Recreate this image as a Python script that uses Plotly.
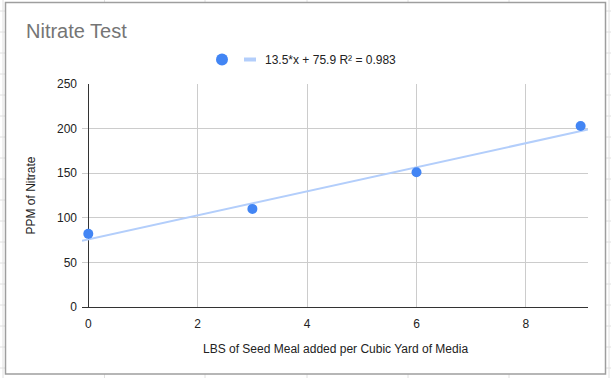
import numpy as np
import plotly.graph_objects as go

# ---- data ----
lbs_seed_meal = [0, 3, 6, 9]
ppm_nitrate = [82, 110, 151, 203]
x_tick_vals = [0, 2, 4, 6, 8]
y_tick_vals = [0, 50, 100, 150, 200, 250]
chart_title = "Nitrate Test"
x_title = "LBS of Seed Meal added per Cubic Yard of Media"
y_title = "PPM of Nitrate"

# ---- layout geometry ----
W, H = 611, 378
L, R, T, B = 82, 23, 84, 71
x_range = [-0.115, 9.135]
y_range = [0, 250]
FONT = "Liberation Sans, Arial, sans-serif"
BLUE = "#4285f4"
TREND = "#b3cefb"


def px(x):
    return (x - L) / (W - L - R)


def py(y):
    return (H - B - y) / (H - T - B)


# linear trendline
xa = np.array(lbs_seed_meal, dtype=float)
ya = np.array(ppm_nitrate, dtype=float)
slope, intercept = np.polyfit(xa, ya, 1)
pred = slope * xa + intercept
r2 = 1 - np.sum((ya - pred) ** 2) / np.sum((ya - ya.mean()) ** 2)
trend_label = f"{slope:.1f}*x + {intercept:.1f} R\u00b2 = {r2:.3f}"
x_fit = np.array(x_range)
y_fit = slope * x_fit + intercept

fig = go.Figure()
fig.add_trace(go.Scatter(x=x_fit, y=y_fit, mode="lines",
                         line=dict(color=TREND, width=2),
                         hoverinfo="skip", showlegend=False))
fig.add_trace(go.Scatter(x=lbs_seed_meal, y=ppm_nitrate, mode="markers",
                         marker=dict(color=BLUE, size=10),
                         showlegend=False))

shapes = []
grid_c = "#e0e0e0"
# spreadsheet background lines
for gx in [3, 104.5, 205, 307, 408, 509, 609]:
    shapes.append(dict(type="line", xref="paper", yref="paper",
                       x0=px(gx), x1=px(gx), y0=py(0), y1=py(H),
                       line=dict(color=grid_c, width=1), layer="below"))
for k in range(18):
    gy = 11 + 21 * k
    shapes.append(dict(type="line", xref="paper", yref="paper",
                       x0=px(0), x1=px(W), y0=py(gy), y1=py(gy),
                       line=dict(color=grid_c, width=1), layer="below"))
# chart card
shapes.append(dict(type="rect", xref="paper", yref="paper",
                   x0=px(5.5), x1=px(605.5), y0=py(2.5), y1=py(374),
                   fillcolor="white", line=dict(color="#9e9e9e", width=1.5),
                   layer="below"))
# custom legend symbols
shapes.append(dict(type="circle", xref="paper", yref="paper",
                   xsizemode="pixel", ysizemode="pixel",
                   xanchor=px(222), yanchor=py(59.5),
                   x0=-6, x1=6, y0=-6, y1=6,
                   fillcolor=BLUE, line=dict(width=0)))
shapes.append(dict(type="line", xref="paper", yref="paper",
                   x0=px(244), x1=px(256), y0=py(59.5), y1=py(59.5),
                   line=dict(color=TREND, width=4)))

annotations = [
    dict(text=chart_title, xref="paper", yref="paper", x=px(24), y=py(31),
         xanchor="left", yanchor="middle", showarrow=False,
         font=dict(family=FONT, size=20, color="#757575")),
    dict(text=trend_label, xref="paper", yref="paper", x=px(263), y=py(59.5),
         xanchor="left", yanchor="middle", showarrow=False,
         font=dict(family=FONT, size=12, color="#222222")),
    dict(text=x_title, xref="paper", yref="paper", x=px(335), y=py(349),
         xanchor="center", yanchor="middle", showarrow=False,
         font=dict(family=FONT, size=12, color="#222222")),
    dict(text=y_title, xref="paper", yref="paper", x=px(30), y=py(195.5),
         xanchor="center", yanchor="middle", showarrow=False, textangle=-90,
         font=dict(family=FONT, size=12, color="#222222")),
]

fig.update_layout(
    width=W, height=H,
    margin=dict(l=L, r=R, t=T, b=B, pad=0),
    paper_bgcolor="white", plot_bgcolor="rgba(0,0,0,0)",
    font=dict(family=FONT, size=12, color="#222222"),
    shapes=shapes, annotations=annotations, showlegend=False,
    xaxis=dict(range=x_range, tickvals=x_tick_vals, showgrid=True,
               gridcolor="#cccccc", gridwidth=1,
               zeroline=True, zerolinecolor="#333333", zerolinewidth=1,
               showline=True, linecolor="#333333", linewidth=1,
               ticks="", ticklabelstandoff=6,
               tickfont=dict(family=FONT, size=12, color="#222222")),
    yaxis=dict(range=y_range, tickvals=y_tick_vals, showgrid=True,
               gridcolor="#cccccc", gridwidth=1, zeroline=False,
               showline=False, ticks="", ticklabelstandoff=4,
               tickfont=dict(family=FONT, size=12, color="#222222")),
)

fig.write_html(
    "out.html",
    config={"displayModeBar": False},
    post_script="document.body.style.margin='0';"
                "document.body.style.overflow='hidden';",
)
